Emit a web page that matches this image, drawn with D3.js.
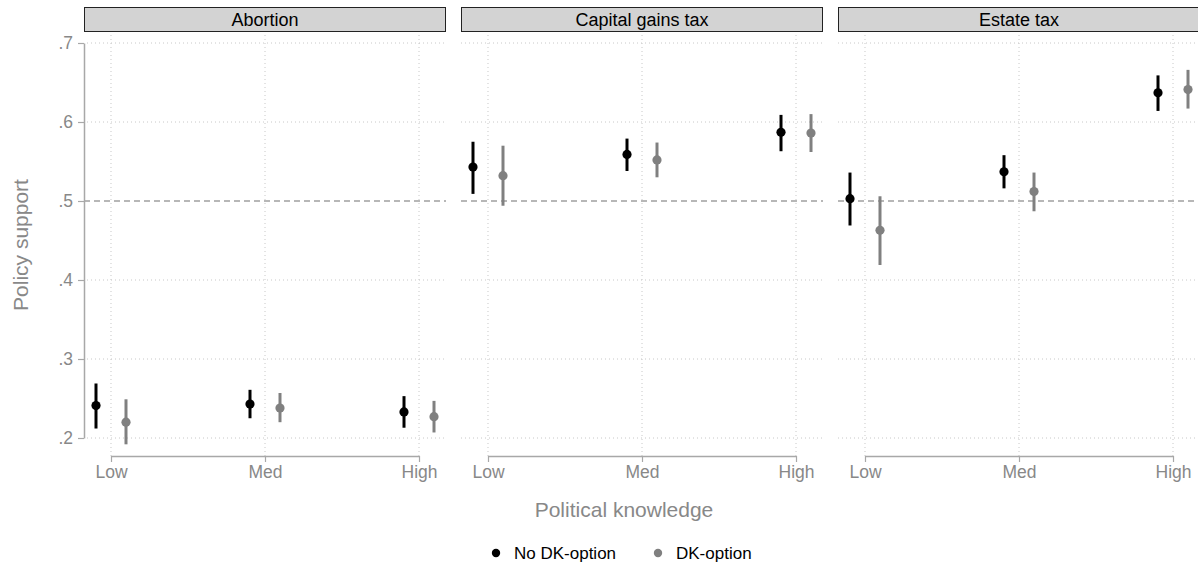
<!DOCTYPE html>
<html>
<head>
<meta charset="utf-8">
<script src="https://cdn.jsdelivr.net/npm/d3@7/dist/d3.min.js"></script>
<style>
  html, body { margin: 0; padding: 0; background: #fff; }
  svg { display: block; font-family: "Liberation Sans", Arial, Helvetica, sans-serif; }
</style>
</head>
<body>
<svg id="chart" width="1198" height="569"></svg>
<script>
// ---------- data ----------
const panels = ["Abortion", "Capital gains tax", "Estate tax"];
const levels = ["Low", "Med", "High"];
const seriesNames = ["No DK-option", "DK-option"];
const seriesColors = ["#000000", "#808080"];

// estimates [panel][level]
const noDKEst = [[0.241, 0.243, 0.233], [0.543, 0.559, 0.587], [0.503, 0.537, 0.637]];
const noDKLo  = [[0.212, 0.225, 0.213], [0.509, 0.538, 0.563], [0.469, 0.516, 0.614]];
const noDKHi  = [[0.269, 0.261, 0.253], [0.575, 0.579, 0.609], [0.536, 0.558, 0.659]];
const dkEst   = [[0.220, 0.238, 0.227], [0.532, 0.552, 0.586], [0.463, 0.512, 0.641]];
const dkLo    = [[0.192, 0.220, 0.207], [0.494, 0.530, 0.562], [0.419, 0.487, 0.617]];
const dkHi    = [[0.249, 0.257, 0.247], [0.570, 0.574, 0.610], [0.506, 0.536, 0.666]];

const yTicks = [0.2, 0.3, 0.4, 0.5, 0.6, 0.7];
const yTickLabels = [".2", ".3", ".4", ".5", ".6", ".7"];
const refLine = 0.5;

// ---------- layout ----------
const panelLefts = [84, 461, 838];
const panelW = 362;
const plotTop = 35, axisY = 456;
const stripTop = 7, stripH = 24;

const svg = d3.select("#chart");

const y = d3.scaleLinear().domain([0.2, 0.7]).range([438, 43]);
const x = d3.scalePoint().domain(levels).range([0, panelW]).padding(0.1753);
const dodge = d3.scaleOrdinal().domain(seriesNames).range([-15, 15]);
const color = d3.scaleOrdinal().domain(seriesNames).range(seriesColors);

const est = [noDKEst, dkEst], lo = [noDKLo, dkLo], hi = [noDKHi, dkHi];

panels.forEach((p, pi) => {
  const g = svg.append("g").attr("transform", `translate(${panelLefts[pi]},0)`);

  // strip
  g.append("rect").attr("x", 0.5).attr("y", stripTop + 0.5)
    .attr("width", panelW - 1).attr("height", stripH)
    .attr("fill", "#d3d3d3").attr("stroke", "#222").attr("stroke-width", 1);
  g.append("text").attr("x", panelW / 2).attr("y", stripTop + 19)
    .attr("text-anchor", "middle").attr("font-size", 18).attr("fill", "#000").text(p);

  // horizontal grid
  g.selectAll(".hgrid").data(yTicks.filter(t => t !== refLine)).enter().append("line")
    .attr("x1", pi === 0 ? 3 : 0).attr("x2", panelW)
    .attr("y1", d => y(d)).attr("y2", d => y(d))
    .attr("stroke", "#c8c8c8").attr("stroke-width", 1).attr("stroke-dasharray", "1,3");

  // vertical grid
  g.selectAll(".vgrid").data(levels).enter().append("line")
    .attr("x1", d => x(d)).attr("x2", d => x(d))
    .attr("y1", plotTop).attr("y2", axisY)
    .attr("stroke", "#c8c8c8").attr("stroke-width", 1).attr("stroke-dasharray", "1,3");

  // reference line
  g.append("line").attr("x1", 0).attr("x2", panelW)
    .attr("y1", y(refLine)).attr("y2", y(refLine))
    .attr("stroke", "#707070").attr("stroke-width", 1.2).attr("stroke-dasharray", "6,4");

  // x axis
  const xa = g.append("g").attr("transform", `translate(0,${axisY})`)
    .call(d3.axisBottom(x).tickSize(6).tickPadding(4));
  xa.select(".domain").remove();
  xa.append("line").attr("x1", x(levels[0])).attr("x2", x(levels[levels.length - 1]))
    .attr("y1", 0.5).attr("y2", 0.5).attr("stroke", "#a8a8a8").attr("stroke-width", 1.5);
  xa.selectAll(".tick line").attr("stroke", "#a8a8a8").attr("stroke-width", 1.2);
  xa.selectAll(".tick text").attr("font-size", 17.5).attr("fill", "#888")
    .attr("font-family", "'Liberation Sans', Arial, sans-serif");

  // y axis (first panel only)
  if (pi === 0) {
    const ya = g.append("g")
      .call(d3.axisLeft(y).tickValues(yTicks).tickFormat((d, i) => yTickLabels[i])
        .tickSize(6).tickSizeOuter(0).tickPadding(5));
    ya.select(".domain").attr("stroke", "#a8a8a8").attr("stroke-width", 1.5);
    ya.selectAll(".tick line").attr("stroke", "#a8a8a8").attr("stroke-width", 1.2);
    ya.selectAll(".tick text").attr("font-size", 17.5).attr("fill", "#888")
      .attr("font-family", "'Liberation Sans', Arial, sans-serif");
  }

  // series
  seriesNames.forEach((s, si) => {
    const rows = levels.map((lv, li) => ({
      lv, e: est[si][pi][li], l: lo[si][pi][li], h: hi[si][pi][li]
    }));
    g.selectAll(null).data(rows).enter().append("line")
      .attr("x1", d => x(d.lv) + dodge(s)).attr("x2", d => x(d.lv) + dodge(s))
      .attr("y1", d => y(d.l)).attr("y2", d => y(d.h))
      .attr("stroke", color(s)).attr("stroke-width", 3);
    g.selectAll(null).data(rows).enter().append("circle")
      .attr("cx", d => x(d.lv) + dodge(s)).attr("cy", d => y(d.e))
      .attr("r", 4.6).attr("fill", color(s));
  });
});

// axis titles
svg.append("text").attr("transform", "translate(28,245) rotate(-90)")
  .attr("text-anchor", "middle").attr("font-size", 21).attr("fill", "#888")
  .text("Policy support");
svg.append("text").attr("x", 624).attr("y", 517)
  .attr("text-anchor", "middle").attr("font-size", 21).attr("fill", "#888")
  .text("Political knowledge");

// legend
const legX = [496, 658];
const lg = svg.append("g");
seriesNames.forEach((s, si) => {
  lg.append("circle").attr("cx", legX[si]).attr("cy", 553).attr("r", 4.2).attr("fill", color(s));
  lg.append("text").attr("x", legX[si] + 18).attr("y", 559)
    .attr("font-size", 17).attr("fill", "#000").text(s);
});
</script>
</body>
</html>
